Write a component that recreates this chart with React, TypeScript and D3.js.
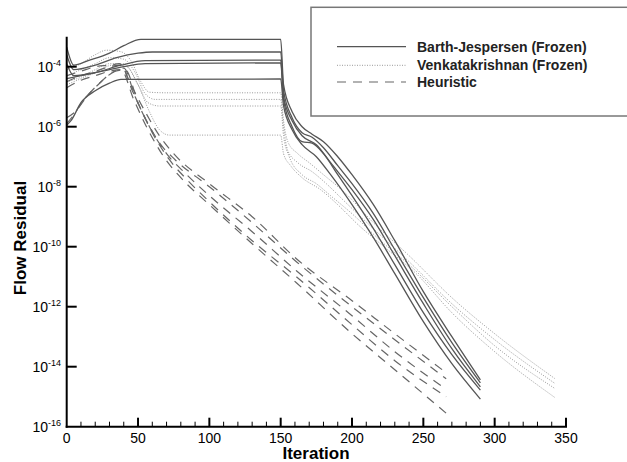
import React, { useEffect, useRef } from 'react';
import * as d3 from 'd3';

// [iteration, log10(residual)]
const barthJespersen: [number, number][][] = [
  [[0, -3.35], [5, -3.95], [15, -3.8], [30, -3.55], [40, -3.3], [52, -3.09], [150, -3.09], [152, -4.6], [158, -5.5], [165, -6.0], [172, -6.25], [180, -6.5], [190, -7.0], [200, -7.6], [215, -8.6], [230, -9.8], [250, -11.5], [270, -13.0], [290, -14.44]],
  [[0, -3.6], [5, -4.1], [20, -3.95], [35, -3.7], [50, -3.55], [60, -3.51], [150, -3.51], [152, -4.8], [158, -5.7], [165, -6.2], [172, -6.35], [180, -6.7], [190, -7.3], [200, -7.9], [215, -8.9], [230, -10.1], [250, -11.7], [270, -13.2], [290, -14.54]],
  [[0, -3.9], [5, -4.3], [20, -4.2], [38, -3.95], [55, -3.8], [150, -3.78], [152, -5.0], [158, -5.8], [165, -6.3], [175, -6.6], [185, -7.2], [200, -8.1], [215, -9.1], [230, -10.3], [250, -11.9], [270, -13.4], [290, -14.67]],
  [[0, -4.4], [10, -4.3], [25, -4.15], [40, -4.0], [55, -3.9], [150, -3.87], [152, -5.1], [158, -6.0], [165, -6.5], [172, -6.55], [180, -6.9], [190, -7.6], [200, -8.3], [215, -9.4], [230, -10.6], [250, -12.2], [270, -13.6], [290, -14.78]],
  [[0, -5.95], [3, -5.8], [10, -5.2], [20, -4.8], [30, -4.55], [38, -4.42], [150, -4.41], [152, -5.3], [158, -6.1], [165, -6.6], [175, -7.0], [185, -7.6], [200, -8.6], [215, -9.7], [230, -10.9], [250, -12.5], [270, -13.9], [290, -15.08]],
];

const venkatakrishnan: [number, number][][] = [
  [[0, -4.1], [10, -3.9], [20, -3.6], [28, -3.45], [38, -3.5], [45, -3.8], [52, -4.5], [58, -4.85], [70, -4.87], [150, -4.87], [152, -5.8], [155, -6.5], [162, -6.9], [170, -7.2], [180, -7.6], [195, -8.2], [215, -9.2], [240, -10.3], [270, -11.7], [300, -12.9], [342, -14.39]],
  [[0, -4.3], [10, -4.1], [20, -3.9], [30, -3.7], [40, -3.75], [48, -4.2], [55, -4.9], [62, -5.09], [150, -5.09], [152, -6.0], [155, -6.8], [162, -7.2], [172, -7.5], [182, -7.9], [195, -8.5], [215, -9.4], [240, -10.5], [270, -11.9], [300, -13.1], [342, -14.55]],
  [[0, -4.5], [10, -4.35], [20, -4.1], [30, -3.9], [40, -3.9], [50, -4.6], [57, -5.2], [65, -5.31], [150, -5.31], [152, -6.3], [156, -7.0], [165, -7.6], [175, -7.9], [185, -8.3], [200, -8.9], [220, -9.8], [240, -10.6], [270, -12.0], [300, -13.3], [342, -14.72]],
  [[0, -4.6], [10, -4.4], [20, -4.2], [32, -3.95], [42, -4.0], [50, -4.6], [58, -5.5], [65, -6.1], [72, -6.28], [150, -6.28], [152, -6.9], [157, -7.3], [165, -7.7], [178, -8.1], [190, -8.6], [205, -9.3], [225, -10.1], [245, -10.9], [270, -12.2], [300, -13.5], [342, -15.02]],
];

const heuristic: [number, number][][] = [
  [[0, -4.3], [10, -4.15], [20, -4.0], [30, -3.95], [37, -3.9], [45, -4.6], [55, -5.5], [65, -6.3], [75, -6.9], [100, -7.9], [130, -9.0], [161, -10.4], [200, -11.8], [230, -12.9], [266, -14.2]],
  [[0, -4.5], [10, -4.3], [20, -4.15], [30, -4.0], [38, -3.95], [46, -4.8], [56, -5.8], [66, -6.6], [76, -7.1], [100, -8.0], [130, -9.2], [161, -10.5], [200, -12.0], [230, -13.1], [266, -14.4]],
  [[0, -5.9], [5, -5.6], [12, -5.1], [22, -4.6], [32, -4.2], [40, -4.05], [48, -5.0], [58, -6.0], [70, -6.9], [82, -7.5], [100, -8.3], [130, -9.5], [161, -10.8], [200, -12.3], [230, -13.5], [266, -14.75]],
  [[0, -5.7], [6, -5.5], [14, -5.0], [24, -4.5], [34, -4.15], [41, -4.1], [50, -5.2], [60, -6.2], [72, -7.1], [85, -7.8], [100, -8.5], [130, -9.8], [161, -11.0], [200, -12.6], [230, -13.8], [266, -15.0]],
  [[0, -4.7], [10, -4.45], [20, -4.3], [30, -4.15], [38, -4.1], [47, -5.1], [57, -6.1], [68, -7.0], [80, -7.7], [100, -8.6], [130, -9.9], [161, -11.2], [200, -12.9], [230, -14.1], [266, -15.55]],
];

const xTicks = [0, 50, 100, 150, 200, 250, 300, 350];
const yTickExps = [-4, -6, -8, -10, -12, -14, -16];
const legendLabels = ['Barth-Jespersen (Frozen)', 'Venkatakrishnan (Frozen)', 'Heuristic'];

const App = () => {
  const ref = useRef<SVGSVGElement>(null);

  useEffect(() => {
    const width = 627;
    const height = 462;
    const svg = d3.select(ref.current);
    svg.selectAll('*').remove();
    svg.attr('width', width).attr('height', height);

    const x = d3.scaleLinear().domain([0, 350]).range([66.7, 566]);
    const y = d3.scaleLinear().domain([-16, -3]).range([426.7, 36.7]);
    const font = 'Liberation Sans, Arial, sans-serif';

    const line = d3.line<[number, number]>()
      .x(d => x(d[0]))
      .y(d => y(d[1]))
      .curve(d3.curveMonotoneX);

    const styles = [
      { data: venkatakrishnan, stroke: '#999', width: 1, dash: '1,1.5' },
      { data: heuristic, stroke: '#666', width: 1.2, dash: '9,7' },
      { data: barthJespersen, stroke: '#555', width: 1.3, dash: null },
    ];

    styles.forEach(s => {
      svg.append('g').selectAll('path')
        .data(s.data)
        .enter()
        .append('path')
        .attr('d', d => line(d))
        .attr('fill', 'none')
        .attr('stroke', s.stroke)
        .attr('stroke-width', s.width)
        .attr('stroke-dasharray', s.dash);
    });

    // axes
    const axes = svg.append('g');
    axes.append('line')
      .attr('x1', x(0)).attr('x2', x(0))
      .attr('y1', y(-3)).attr('y2', y(-16) + 1)
      .attr('stroke', '#000').attr('stroke-width', 2);
    axes.append('line')
      .attr('x1', x(0) - 1).attr('x2', x(350) + 1)
      .attr('y1', y(-16)).attr('y2', y(-16))
      .attr('stroke', '#000').attr('stroke-width', 2);

    axes.selectAll('.xmin')
      .data(d3.range(10, 350, 10).filter(v => v % 50 !== 0))
      .enter().append('line')
      .attr('x1', d => x(d)).attr('x2', d => x(d))
      .attr('y1', y(-16)).attr('y2', y(-16) - 5)
      .attr('stroke', '#000').attr('stroke-width', 1);

    axes.selectAll('.xmaj')
      .data(xTicks.slice(1))
      .enter().append('line')
      .attr('x1', d => x(d)).attr('x2', d => x(d))
      .attr('y1', y(-16)).attr('y2', y(-16) - 9)
      .attr('stroke', '#000').attr('stroke-width', 2);

    axes.selectAll('.xlab')
      .data(xTicks)
      .enter().append('text')
      .attr('x', d => x(d))
      .attr('y', 443)
      .attr('text-anchor', 'middle')
      .style('font-family', font)
      .style('font-size', '14px')
      .text(d => d);

    axes.selectAll('.ymaj')
      .data(yTickExps.slice(0, -1))
      .enter().append('line')
      .attr('x1', x(0)).attr('x2', x(0) + 10)
      .attr('y1', d => y(d)).attr('y2', d => y(d))
      .attr('stroke', '#000').attr('stroke-width', 2);

    const ylab = axes.selectAll('.ylab')
      .data(yTickExps)
      .enter().append('text')
      .attr('x', 61)
      .attr('y', d => y(d) + 5)
      .attr('text-anchor', 'end')
      .style('font-family', font)
      .style('font-size', '14px');
    ylab.append('tspan').text('10');
    ylab.append('tspan')
      .attr('dy', -6)
      .style('font-size', '9px')
      .text(d => String(d));

    svg.append('text')
      .attr('x', 316)
      .attr('y', 459)
      .attr('text-anchor', 'middle')
      .style('font-family', font)
      .style('font-weight', 'bold')
      .style('font-size', '17px')
      .text('Iteration');

    svg.append('text')
      .attr('transform', 'translate(26, 238) rotate(-90)')
      .attr('text-anchor', 'middle')
      .style('font-family', font)
      .style('font-weight', 'bold')
      .style('font-size', '17px')
      .text('Flow Residual');

    // legend
    const legend = svg.append('g');
    legend.append('rect')
      .attr('x', 311).attr('y', 7.3)
      .attr('width', 330).attr('height', 108.7)
      .attr('fill', '#fff')
      .attr('stroke', '#777')
      .attr('stroke-width', 1.5);

    const legendY = [46.7, 65.3, 82];
    const legendStyles = [styles[2], styles[0], styles[1]];
    legendLabels.forEach((label, i) => {
      legend.append('line')
        .attr('x1', 337).attr('x2', 406)
        .attr('y1', legendY[i]).attr('y2', legendY[i])
        .attr('stroke', legendStyles[i].stroke)
        .attr('stroke-width', legendStyles[i].width)
        .attr('stroke-dasharray', legendStyles[i].dash);
      legend.append('text')
        .attr('x', 417)
        .attr('y', legendY[i] + 5)
        .style('font-family', font)
        .style('font-weight', 'bold')
        .style('font-size', '14px')
        .style('fill', '#222')
        .text(label);
    });
  }, []);

  return <svg ref={ref} style={{ position: 'absolute', left: 0, top: 0 }} />;
};

export default App;
